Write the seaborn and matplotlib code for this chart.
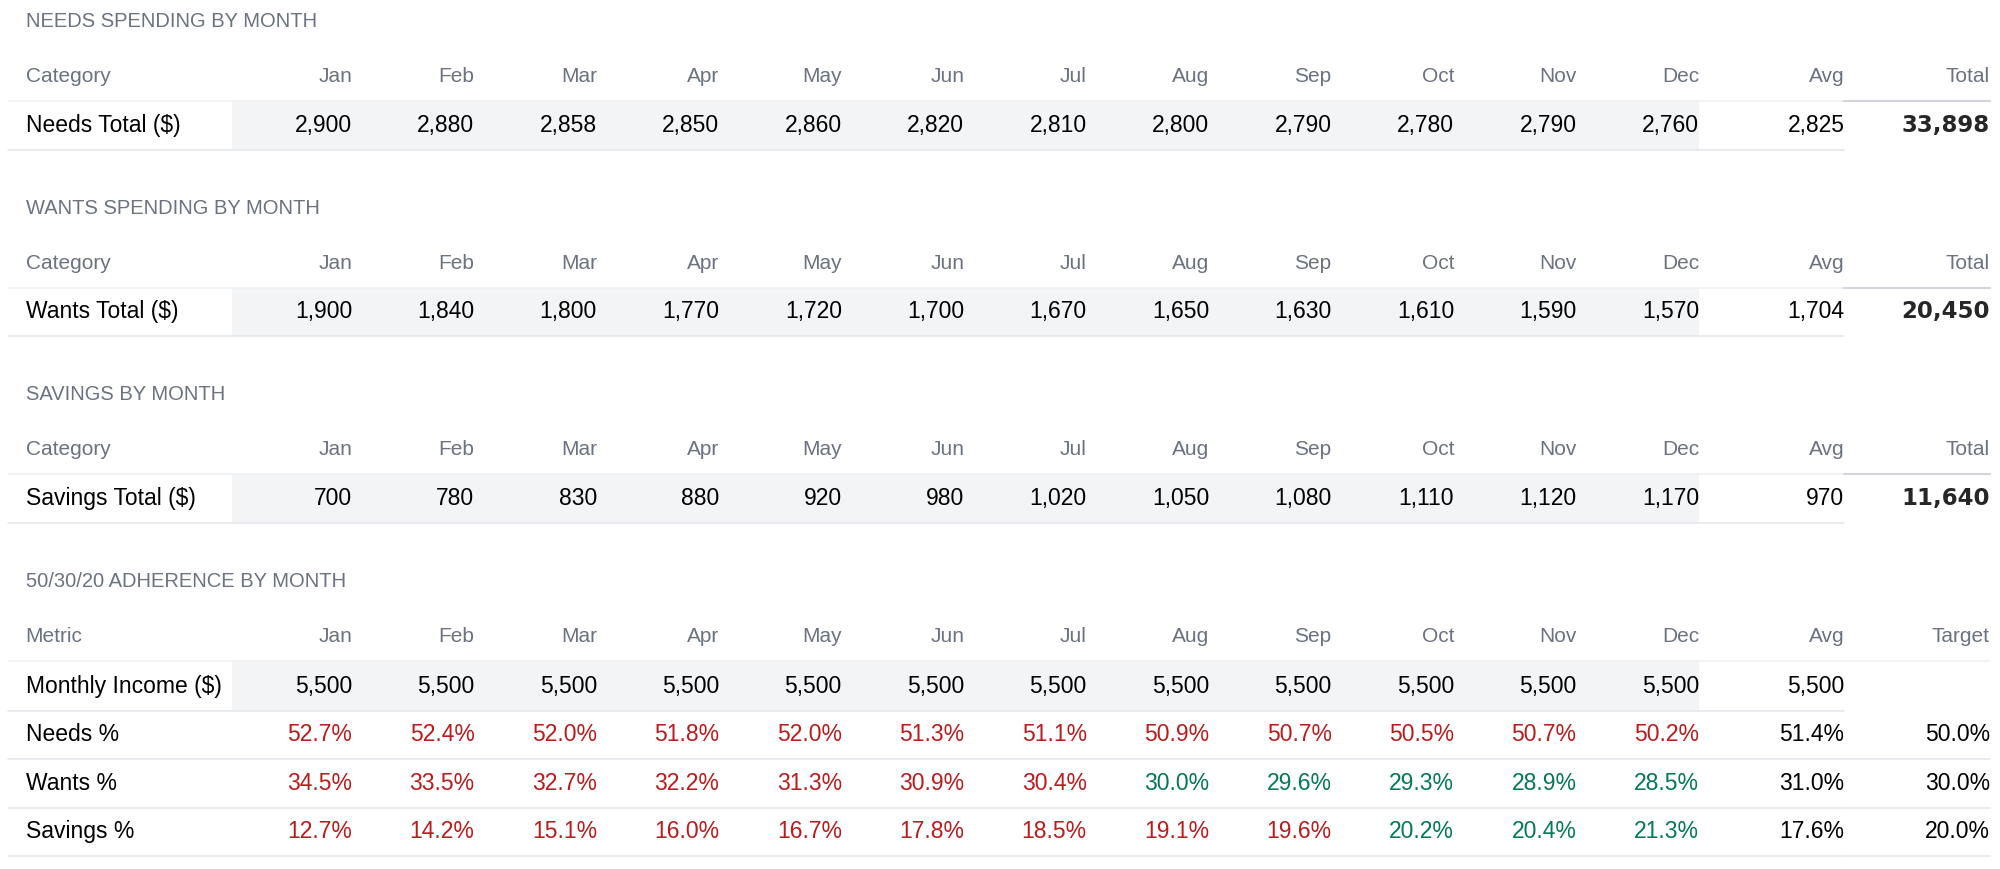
import matplotlib.pyplot as plt
import seaborn as sns

months = ['Jan', 'Feb', 'Mar', 'Apr', 'May', 'Jun', 'Jul', 'Aug', 'Sep', 'Oct', 'Nov', 'Dec']
needs = [2900, 2880, 2858, 2850, 2860, 2820, 2810, 2800, 2790, 2780, 2790, 2760]
needs_avg, needs_total = 2825, 33898
wants = [1900, 1840, 1800, 1770, 1720, 1700, 1670, 1650, 1630, 1610, 1590, 1570]
wants_avg, wants_total = 1704, 20450
savings = [700, 780, 830, 880, 920, 980, 1020, 1050, 1080, 1110, 1120, 1170]
savings_avg, savings_total = 970, 11640
income = [5500] * 12
income_avg = 5500
needs_pct = [52.7, 52.4, 52.0, 51.8, 52.0, 51.3, 51.1, 50.9, 50.7, 50.5, 50.7, 50.2]
wants_pct = [34.5, 33.5, 32.7, 32.2, 31.3, 30.9, 30.4, 30.0, 29.6, 29.3, 28.9, 28.5]
savings_pct = [12.7, 14.2, 15.1, 16.0, 16.7, 17.8, 18.5, 19.1, 19.6, 20.2, 20.4, 21.3]
pct_avg = [51.4, 31.0, 17.6]
pct_target = [50.0, 30.0, 20.0]

sns.set_style("white")
plt.rcParams['font.family'] = ['Liberation Sans', 'DejaVu Sans']

GRAY = '#6b7280'
RED = '#b91c1c'
GREEN = '#047857'
BAND = '#f3f4f6'
LINE = '#e5e7eb'
FS_DATA, FS_HEAD, FS_TITLE = 16.5, 15, 14.5

fig = plt.figure(figsize=(20, 8.69), dpi=100)
ax = fig.add_axes([0, 0, 1, 1])
ax.set_xlim(0, 1568)
ax.set_ylim(680, 0)
ax.axis('off')

col_x = [276 + 96 * i for i in range(12)]
avg_x, tot_x = 1446, 1560
RH = 38


def header(y, first, last):
    ax.text(20, y, first, color=GRAY, fontsize=FS_HEAD, va='center')
    for x, m in zip(col_x, months):
        ax.text(x, y, m, color=GRAY, fontsize=FS_HEAD, va='center', ha='right')
    ax.text(avg_x, y, 'Avg', color=GRAY, fontsize=FS_HEAD, va='center', ha='right')
    ax.text(tot_x, y, last, color=GRAY, fontsize=FS_HEAD, va='center', ha='right')


def row(y, label, texts, colors=None, band=False, line=True):
    if band:
        ax.fill_between([182, 1332], y - RH / 2, y + RH / 2, color=BAND, lw=0)
    if line:
        ax.plot([6, 1446], [y + RH / 2, y + RH / 2], color=LINE, lw=1.2)
    ax.text(20, y, label, color='black', fontsize=FS_DATA, va='center')
    xs = col_x + [avg_x, tot_x]
    for i, (x, t) in enumerate(zip(xs, texts)):
        c = colors[i] if colors else 'black'
        ax.text(x, y, t, color=c, fontsize=FS_DATA, va='center', ha='right')


def money_section(y0, title, label, vals, avg, total):
    ax.text(20, y0, title, color=GRAY, fontsize=FS_TITLE, va='center')
    header(y0 + 43, 'Category', 'Total')
    y = y0 + 81
    ax.plot([6, 1560], [y - RH / 2, y - RH / 2], color='#eef0f2', lw=1.2)
    row(y, label, [f'{v:,}' for v in vals] + [f'{avg:,}', ''], band=True)
    ax.plot([1446, 1560], [y - RH / 2, y - RH / 2], color='#d1d5db', lw=1.5)
    ax.text(tot_x, y, f'{total:,}', fontsize=16.5, fontweight='heavy', va='center', ha='right',
            family=['DejaVu Sans'])


money_section(17, 'NEEDS SPENDING BY MONTH', 'Needs Total ($)', needs, needs_avg, needs_total)
money_section(163, 'WANTS SPENDING BY MONTH', 'Wants Total ($)', wants, wants_avg, wants_total)
money_section(309, 'SAVINGS BY MONTH', 'Savings Total ($)', savings, savings_avg, savings_total)

ax.text(20, 455, '50/30/20 ADHERENCE BY MONTH', color=GRAY, fontsize=FS_TITLE, va='center')
header(498, 'Metric', 'Target')
ax.plot([6, 1560], [517, 517], color='#eef0f2', lw=1.2)
row(537, 'Monthly Income ($)', [f'{v:,}' for v in income] + [f'{income_avg:,}', ''], band=True)

checks = [lambda v, t: v > t, lambda v, t: v > t, lambda v, t: v < t]
labels = ['Needs %', 'Wants %', 'Savings %']
for k, vals in enumerate([needs_pct, wants_pct, savings_pct]):
    y = 575 + k * RH
    cols = [RED if checks[k](v, pct_target[k]) else GREEN for v in vals] + ['black', 'black']
    row(y, labels[k], [f'{v:.1f}%' for v in vals] + [f'{pct_avg[k]:.1f}%', f'{pct_target[k]:.1f}%'],
        colors=cols)
    ax.plot([1446, 1560], [y + RH / 2, y + RH / 2], color=LINE, lw=1.2)

fig.savefig('out.png', dpi=100)
